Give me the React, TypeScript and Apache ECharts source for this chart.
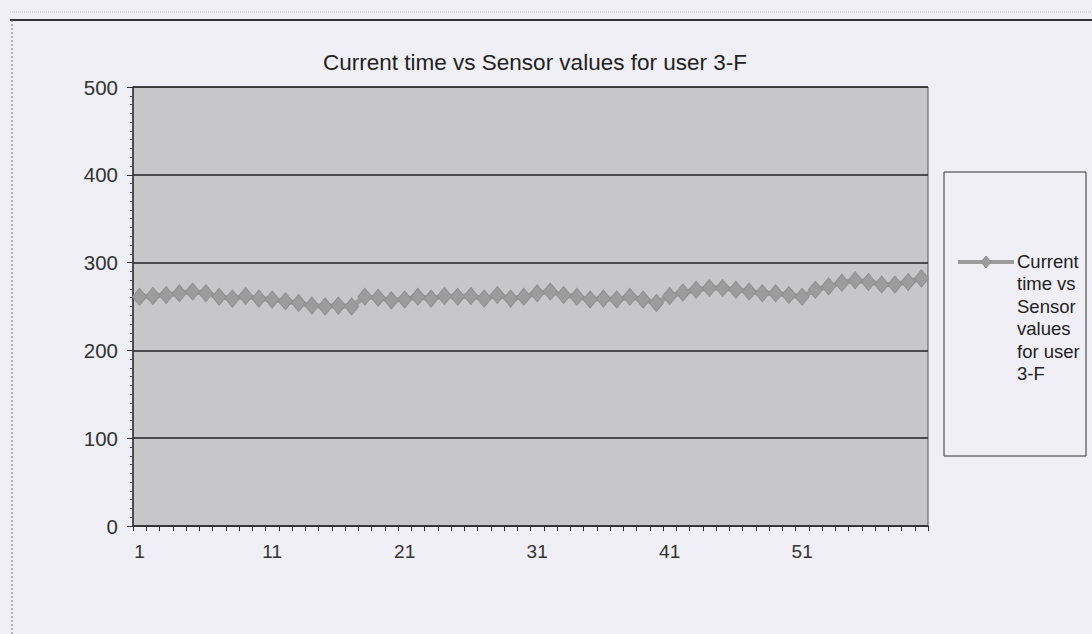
import React, { useEffect, useRef } from "react";
import * as echarts from "echarts";

const categories: string[] = Array.from({ length: 60 }, (_, i) => String(i + 1));
const sensorValues: number[] = [
  261, 262, 263, 265, 267, 265, 261, 259, 262, 259,
  258, 256, 254, 251, 250, 251, 250, 261, 260, 257,
  258, 261, 259, 262, 261, 262, 259, 263, 259, 261,
  265, 267, 263, 261, 258, 259, 258, 261, 258, 254,
  262, 266, 269, 271, 271, 269, 267, 265, 265, 263,
  261, 269, 273, 277, 280, 278, 275, 275, 278, 282,
];
const yTicks = [0, 100, 200, 300, 400, 500];
const seriesName = "Current time vs Sensor values for user 3-F";
const legendLines = ["Current", "time vs", "Sensor", "values", "for user", "3-F"];

export default function App() {
  const ref = useRef<HTMLDivElement>(null);
  useEffect(() => {
    if (!ref.current) return;
    const chart = echarts.init(ref.current, null, { renderer: "svg" });
    const font = "'Liberation Sans', Arial, sans-serif";
    chart.setOption({
      animation: false,
      backgroundColor: "#efeff5",
      title: {
        text: seriesName,
        left: 530,
        textAlign: "center",
        top: 46,
        textStyle: { fontFamily: font, fontSize: 22.5, fontWeight: "normal", color: "#222" },
      },
      grid: { left: 133, top: 87, width: 795, height: 439, show: true, backgroundColor: "#c7c7c9", borderColor: "#555", borderWidth: 1 },
      xAxis: {
        type: "category",
        data: categories,
        boundaryGap: true,
        axisLine: { lineStyle: { color: "#333", width: 1.5 } },
        axisTick: { show: true, interval: 0, length: 5, inside: false, lineStyle: { color: "#333" } },
        axisLabel: { interval: 9, fontFamily: font, fontSize: 19, color: "#333", margin: 16 },
        splitLine: { show: false },
      },
      yAxis: {
        type: "value",
        min: yTicks[0],
        max: yTicks[yTicks.length - 1],
        interval: 100,
        axisLine: { show: true, lineStyle: { color: "#333", width: 1.5 } },
        axisTick: { show: true, length: 6, lineStyle: { color: "#333" } },
        minorTick: { show: true, splitNumber: 10, length: 3, lineStyle: { color: "#555" } },
        axisLabel: { fontFamily: font, fontSize: 20.5, color: "#333", margin: 15 },
        splitLine: { show: true, lineStyle: { color: "#222", width: 1.5 } },
      },
      series: [
        {
          name: seriesName,
          type: "line",
          data: sensorValues,
          symbol: "diamond",
          symbolSize: [14, 17],
          showSymbol: true,
          showAllSymbol: true,
          lineStyle: { color: "#9c9c9c", width: 5 },
          itemStyle: { color: "#9c9c9c", borderColor: "#8f8f8f", borderWidth: 1 },
        },
      ],
      graphic: [
        { type: "line", shape: { x1: 10, y1: 20, x2: 1092, y2: 20 }, style: { stroke: "#333", lineWidth: 2 } },
        { type: "line", shape: { x1: 12, y1: 20, x2: 12, y2: 634 }, style: { stroke: "#777", lineWidth: 1, lineDash: [2, 2] } },
        { type: "line", shape: { x1: 10, y1: 12, x2: 1092, y2: 12 }, style: { stroke: "#bbb", lineWidth: 1, lineDash: [1, 1] } },
        { type: "rect", shape: { x: 944, y: 172, width: 142, height: 284 }, style: { fill: "none", stroke: "#333", lineWidth: 1 } },
        { type: "line", shape: { x1: 958, y1: 262, x2: 1014, y2: 262 }, style: { stroke: "#9c9c9c", lineWidth: 4 } },
        { type: "polygon", shape: { points: [[986, 256], [991, 262], [986, 268], [981, 262]] }, style: { fill: "#9c9c9c", stroke: "#8e8e8e" } },
        {
          type: "text",
          x: 1017,
          y: 250,
          style: {
            text: legendLines.join("\n"),
            font: `18.5px ${font}`,
            fill: "#222",
            lineHeight: 22.5,
          },
        },
      ],
    });
    return () => chart.dispose();
  }, []);
  return <div ref={ref} style={{ position: "fixed", left: 0, top: 0, width: 1092, height: 634 }} />;
}
